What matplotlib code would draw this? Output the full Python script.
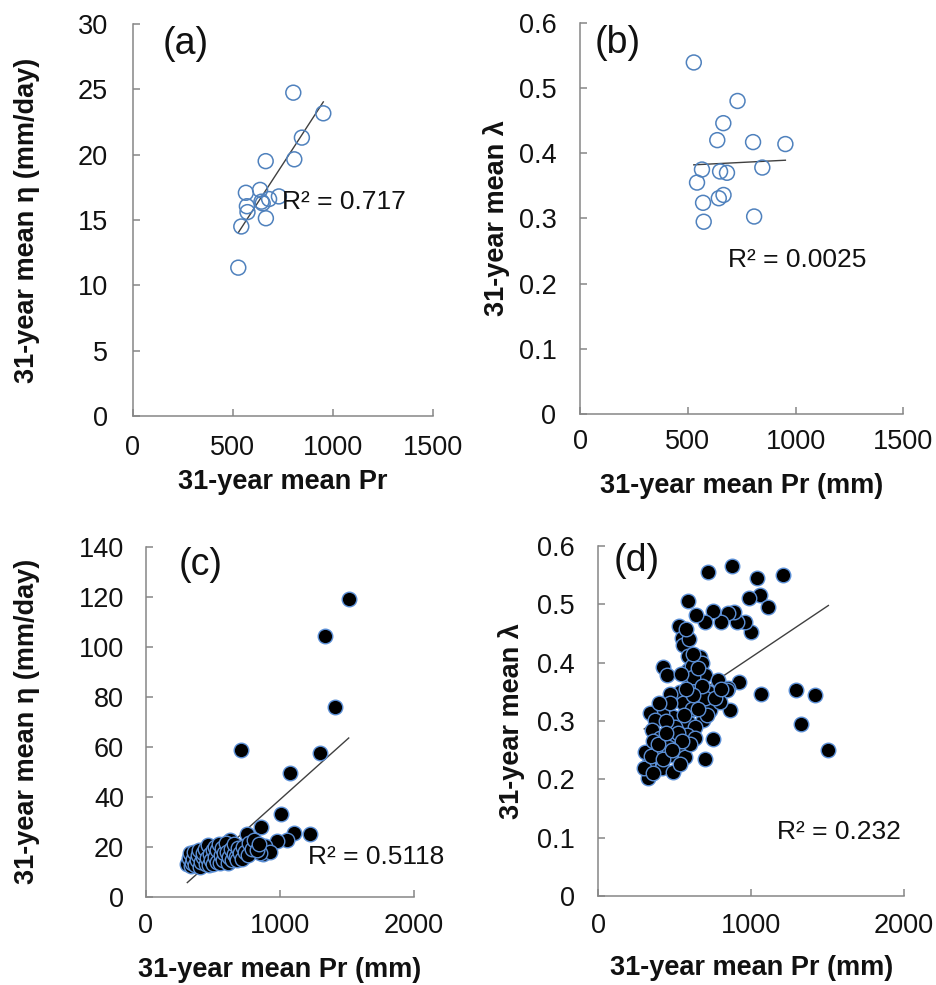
import numpy as np
import matplotlib
matplotlib.use('Agg')
import matplotlib.pyplot as plt

plt.rcParams['font.family'] = ['Liberation Sans', 'DejaVu Sans']

# 16 stations: 31-year mean Pr vs eta (a) and lambda (b)
pr_ab = [528, 543, 566, 571, 574, 637, 644, 650, 665, 666, 682, 731, 803, 808, 846, 953]
eta_a = [11.35, 14.5, 17.08, 16.05, 15.6, 17.3, 16.4, 16.27, 19.5, 15.13, 16.6, 16.8,
         24.74, 19.64, 21.3, 23.16]
lam_b = [0.539, 0.355, 0.375, 0.324, 0.295, 0.420, 0.331, 0.372, 0.446, 0.336, 0.370,
         0.480, 0.417, 0.303, 0.378, 0.414]

# all grid cells: Pr vs eta (c)
pr_c = [1513, 1337, 1414, 708, 1299, 1076, 1006, 857, 1225, 1108, 1056, 976,
        753, 889, 877, 703, 599, 487, 335, 467, 927, 802, 629, 852,
        310, 320, 330, 335, 343, 350, 360, 370, 380, 390, 400, 405, 415, 425, 430,
        440, 450, 460, 467, 470, 480, 490, 500, 505, 515, 520, 529, 535, 545, 554,
        560, 570, 575, 585, 595, 604, 610, 620, 635, 645, 655, 660, 670, 678, 690,
        703, 715, 725, 740, 760, 770, 790, 810, 830, 845]
eta_c = [119.2, 104.3, 75.7, 58.7, 57.3, 49.3, 33.1, 27.7, 24.9, 25.3, 22.7, 22.4,
         24.9, 20.3, 17.1, 16.3, 17.6, 20.0, 16.7, 14.0, 18.0, 19.3, 22.7, 17.3,
         13.0, 15.5, 17.3, 12.2, 13.3, 15.0, 17.8, 12.5, 14.5, 16.5, 18.5, 12.0, 14.0, 15.8, 17.3,
         19.0, 13.0, 15.5, 20.7, 12.5, 17.0, 14.5, 18.5, 13.2, 16.0, 20.0, 18.7, 14.0, 21.0, 13.3,
         16.5, 19.5, 14.8, 17.5, 21.5, 18.0, 13.5, 15.8, 19.0, 14.5, 17.0, 21.0, 16.0, 14.7, 19.5,
         17.3, 15.0, 20.0, 18.0, 16.5, 21.5, 19.0, 22.5, 18.5, 21.0]

# all grid cells: Pr vs lambda (d)
pr_d = [1505, 1418, 1326, 1293, 1064, 1210, 1036, 1058, 1108, 985, 1001, 958, 905,
        887, 851, 805, 750, 696, 639, 585, 718, 875, 530, 923, 861,
        548, 552, 589, 665, 676, 425, 447, 589, 698, 785, 851, 840, 600, 534, 469,
        654, 720, 556, 644, 731, 796, 491, 415, 338, 371, 589, 687, 633, 349, 404,
        469, 578, 633, 752, 523, 469, 567, 305, 382, 327, 415, 491, 698, 327, 534,
        610, 620, 660, 700, 610, 560, 500, 440, 600, 520, 455, 680, 620, 575, 710,
        540, 650, 760, 800, 470, 395, 360, 545, 655, 620, 590, 575,
        300, 345, 390, 420, 360, 480, 440]
lam_d = [0.251, 0.345, 0.295, 0.353, 0.347, 0.550, 0.545, 0.516, 0.495, 0.510, 0.453,
         0.469, 0.470, 0.487, 0.485, 0.470, 0.488, 0.469, 0.482, 0.505, 0.556, 0.566,
         0.462, 0.367, 0.318,
         0.442, 0.430, 0.412, 0.410, 0.399, 0.392, 0.379, 0.387, 0.379, 0.371, 0.356,
         0.353, 0.365, 0.350, 0.346, 0.356, 0.350, 0.330, 0.333, 0.319, 0.333, 0.307,
         0.314, 0.313, 0.302, 0.299, 0.302, 0.290, 0.285, 0.270, 0.273, 0.276, 0.270,
         0.269, 0.253, 0.242, 0.239, 0.247, 0.242, 0.225, 0.219, 0.213, 0.234, 0.202,
         0.227,
         0.395, 0.375, 0.345, 0.340, 0.320, 0.310, 0.290, 0.300, 0.260, 0.280, 0.255,
         0.360, 0.345, 0.355, 0.310, 0.380, 0.390, 0.340, 0.355, 0.330, 0.330, 0.265,
         0.265, 0.320, 0.415, 0.440, 0.457,
         0.220, 0.240, 0.260, 0.235, 0.210, 0.250, 0.280]

r2_text = ['R² = 0.717', 'R² = 0.0025', 'R² = 0.5118', 'R² = 0.232']

BLUE = '#4F81BD'
EDGE = '#5B8FD6'
TXT = '#111111'
SPINE = '#868686'

fig = plt.figure(figsize=(9.37, 9.85), dpi=100)

def setup(ax, xmax, xstep, ymax, ystep, yfmt, xpad, ypad):
    for s in ['top', 'right']:
        ax.spines[s].set_visible(False)
    for s in ['left', 'bottom']:
        ax.spines[s].set_color(SPINE)
        ax.spines[s].set_linewidth(1.1)
    ax.set_xlim(0, xmax)
    ax.set_ylim(0, ymax)
    ax.set_xticks(np.arange(0, xmax + 1, xstep))
    ax.set_yticks(np.arange(0, ymax + ystep / 2, ystep))
    ax.set_yticklabels([yfmt(v) for v in np.arange(0, ymax + ystep / 2, ystep)])
    ax.tick_params(axis='both', direction='in', length=5, width=1.1, color=SPINE,
                   labelsize=19.5, labelcolor=TXT)
    ax.tick_params(axis='x', pad=xpad)
    ax.tick_params(axis='y', pad=ypad)
    ax.set_facecolor('none')

def trend(ax, x, y):
    x = np.asarray(x, float)
    y = np.asarray(y, float)
    k, b = np.polyfit(x, y, 1)
    xs = np.array([x.min(), x.max()])
    ax.plot(xs, k * xs + b, color='#404040', lw=1.0, zorder=1)

# (a)
ax = fig.add_axes([0.1416, 0.5777, 0.3202, 0.398])
setup(ax, 1500, 500, 30, 5, lambda v: '%d' % v, 14, 18)
trend(ax, pr_ab, eta_a)
ax.scatter(pr_ab, eta_a, s=115, facecolors='none', edgecolors=BLUE, linewidths=1.1, zorder=2)
ax.set_xlabel('31-year mean Pr', fontsize=19.5, fontweight='bold', color=TXT)
ax.set_ylabel('31-year mean η (mm/day)', fontsize=19.5, fontweight='bold', color=TXT)
ax.xaxis.set_label_coords(0.5, -0.135)
ax.yaxis.set_label_coords(-0.309, 0.5)
ax.text(0.101, 0.995, '(a)', transform=ax.transAxes, fontsize=27, va='top', color=TXT)
ax.text(0.497, 0.547, r2_text[0], transform=ax.transAxes, fontsize=19, va='center', color=TXT)

# (b)
ax = fig.add_axes([0.619, 0.5794, 0.345, 0.3976])
setup(ax, 1500, 500, 0.6, 0.1, lambda v: '0' if v < 0.05 else '%.1f' % v, 10.5, 17)
trend(ax, pr_ab, lam_b)
ax.scatter(pr_ab, lam_b, s=115, facecolors='none', edgecolors=BLUE, linewidths=1.1, zorder=2)
ax.set_xlabel('31-year mean Pr (mm)', fontsize=19.5, fontweight='bold', color=TXT)
ax.set_ylabel('31-year mean λ', fontsize=19.5, fontweight='bold', color=TXT)
ax.xaxis.set_label_coords(0.5, -0.15)
ax.yaxis.set_label_coords(-0.2165, 0.5)
ax.text(0.046, 0.994, '(b)', transform=ax.transAxes, fontsize=27, va='top', color=TXT)
ax.text(0.459, 0.394, r2_text[1], transform=ax.transAxes, fontsize=19, va='center', color=TXT)

# (c)
ax = fig.add_axes([0.1555, 0.0897, 0.2864, 0.3553])
setup(ax, 2000, 1000, 140, 20, lambda v: '%d' % v, 12, 15.5)
trend(ax, pr_c, eta_c)
ax.scatter(pr_c, eta_c, s=110, c='black', edgecolors=EDGE, linewidths=1.0, zorder=2)
ax.set_xlabel('31-year mean Pr (mm)', fontsize=19.5, fontweight='bold', color=TXT)
ax.set_ylabel('31-year mean η (mm/day)', fontsize=19.5, fontweight='bold', color=TXT)
ax.xaxis.set_label_coords(0.5, -0.1715)
ax.yaxis.set_label_coords(-0.394, 0.5)
ax.text(0.122, 1.0, '(c)', transform=ax.transAxes, fontsize=27, va='top', color=TXT)
ax.text(0.606, 0.114, r2_text[2], transform=ax.transAxes, fontsize=19, va='center', color=TXT)

# (d)
ax = fig.add_axes([0.6386, 0.0904, 0.3262, 0.3553])
setup(ax, 2000, 1000, 0.6, 0.1, lambda v: '0' if v < 0.05 else '%.1f' % v, 12, 17)
trend(ax, pr_d, lam_d)
ax.scatter(pr_d, lam_d, s=110, c='black', edgecolors=EDGE, linewidths=1.0, zorder=2)
ax.set_xlabel('31-year mean Pr (mm)', fontsize=19.5, fontweight='bold', color=TXT)
ax.set_ylabel('31-year mean λ', fontsize=19.5, fontweight='bold', color=TXT)
ax.xaxis.set_label_coords(0.5, -0.169)
ax.yaxis.set_label_coords(-0.24, 0.5)
ax.text(0.051, 1.008, '(d)', transform=ax.transAxes, fontsize=27, va='top', color=TXT)
ax.text(0.583, 0.184, r2_text[3], transform=ax.transAxes, fontsize=19, va='center', color=TXT)

fig.savefig('out.png', dpi=100)
